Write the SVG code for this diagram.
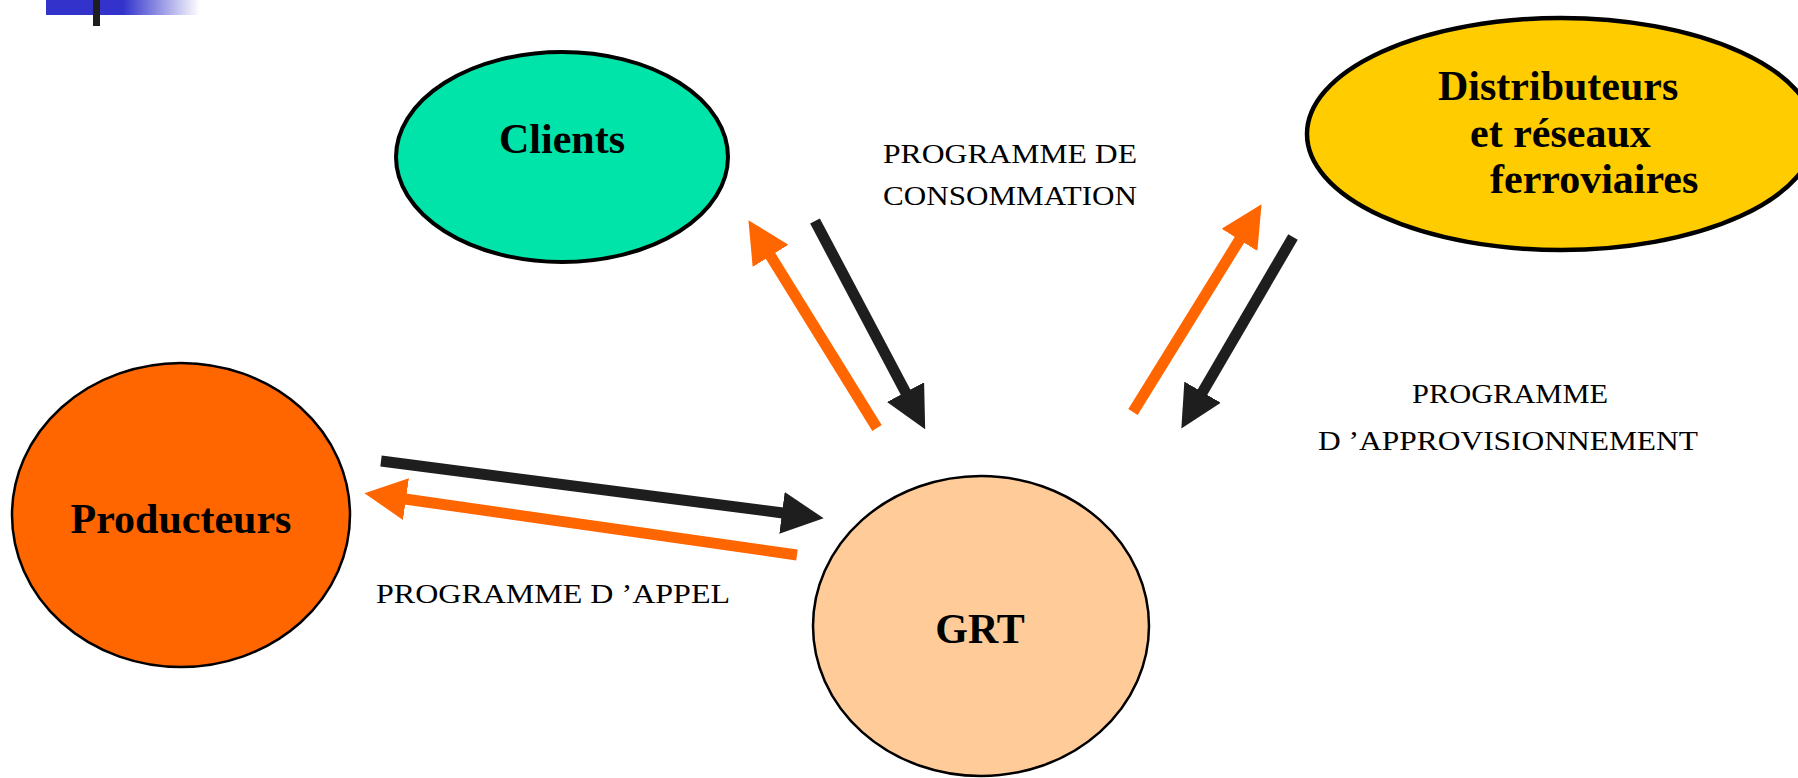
<svg xmlns="http://www.w3.org/2000/svg" width="1798" height="778" viewBox="0 0 1798 778">
<style>
.node{stroke:#000}
.name{font-family:"Liberation Serif","Times New Roman",serif;font-weight:bold;font-size:42px;fill:#000}
.lbl{font-family:"Liberation Serif","Times New Roman",serif;font-size:28px;fill:#000}
.blk{stroke:#1e1e1e;stroke-width:11;fill:none}
.org{stroke:#ff6600;stroke-width:11;fill:none}
</style>
<defs>
<linearGradient id="bar" x1="46" y1="0" x2="200" y2="0" gradientUnits="userSpaceOnUse">
<stop offset="0" stop-color="#3333cc"/>
<stop offset="0.5" stop-color="#3333cc"/>
<stop offset="1" stop-color="#ffffff"/>
</linearGradient>
<marker id="hb" markerUnits="userSpaceOnUse" markerWidth="42" markerHeight="42" viewBox="0 0 42 42" refX="1" refY="21" orient="auto"><path d="M0,0 L42,21 L0,42 z" fill="#1e1e1e"/></marker>
<marker id="ho" markerUnits="userSpaceOnUse" markerWidth="42" markerHeight="42" viewBox="0 0 42 42" refX="1" refY="21" orient="auto"><path d="M0,0 L42,21 L0,42 z" fill="#ff6600"/></marker>
</defs>
<rect x="0" y="0" width="1798" height="778" fill="#ffffff"/>
<rect x="46" y="0" width="156" height="15" fill="url(#bar)"/>
<rect x="93" y="0" width="7" height="26" fill="#1e1e1e"/>

<g id="clients">
<ellipse class="node" cx="562" cy="157" rx="166" ry="105" fill="#00e4aa" stroke-width="4"/>
<text class="name" x="562" y="153" text-anchor="middle">Clients</text>
</g>
<g id="distributeurs">
<ellipse class="node" cx="1561" cy="134" rx="254" ry="116" fill="#ffcc00" stroke-width="4.5"/>
<text class="name" x="1438" y="100">Distributeurs</text>
<text class="name" x="1470" y="147">et réseaux</text>
<text class="name" x="1490" y="193">ferroviaires</text>
</g>
<g id="producteurs">
<ellipse class="node" cx="181" cy="515" rx="169" ry="152" fill="#ff6600" stroke-width="2.5"/>
<text class="name" x="181" y="533" text-anchor="middle">Producteurs</text>
</g>
<g id="grt">
<ellipse class="node" cx="981" cy="626" rx="168" ry="150" fill="#ffcc99" stroke-width="2.5"/>
<text class="name" x="980" y="643" text-anchor="middle">GRT</text>
</g>

<g id="connectors">
<line class="org" x1="877" y1="428" x2="770" y2="255" marker-end="url(#ho)"/>
<line class="blk" x1="815" y1="221" x2="906" y2="393" marker-end="url(#hb)"/>
<line class="org" x1="1133" y1="412" x2="1240" y2="239" marker-end="url(#ho)"/>
<line class="blk" x1="1293" y1="237" x2="1202" y2="393" marker-end="url(#hb)"/>
<line class="blk" x1="381" y1="461" x2="783" y2="513" marker-end="url(#hb)"/>
<line class="org" x1="797" y1="555" x2="405" y2="499" marker-end="url(#ho)"/>
</g>

<g id="labels">
<text class="lbl" x="883" y="163" textLength="254" lengthAdjust="spacingAndGlyphs">PROGRAMME DE</text>
<text class="lbl" x="883" y="205" textLength="254" lengthAdjust="spacingAndGlyphs">CONSOMMATION</text>
<text class="lbl" x="1412" y="403" textLength="196" lengthAdjust="spacingAndGlyphs">PROGRAMME</text>
<text class="lbl" x="1318" y="450" textLength="380" lengthAdjust="spacingAndGlyphs">D ’APPROVISIONNEMENT</text>
<text class="lbl" x="376" y="603" textLength="354" lengthAdjust="spacingAndGlyphs">PROGRAMME D ’APPEL</text>
</g>
</svg>
